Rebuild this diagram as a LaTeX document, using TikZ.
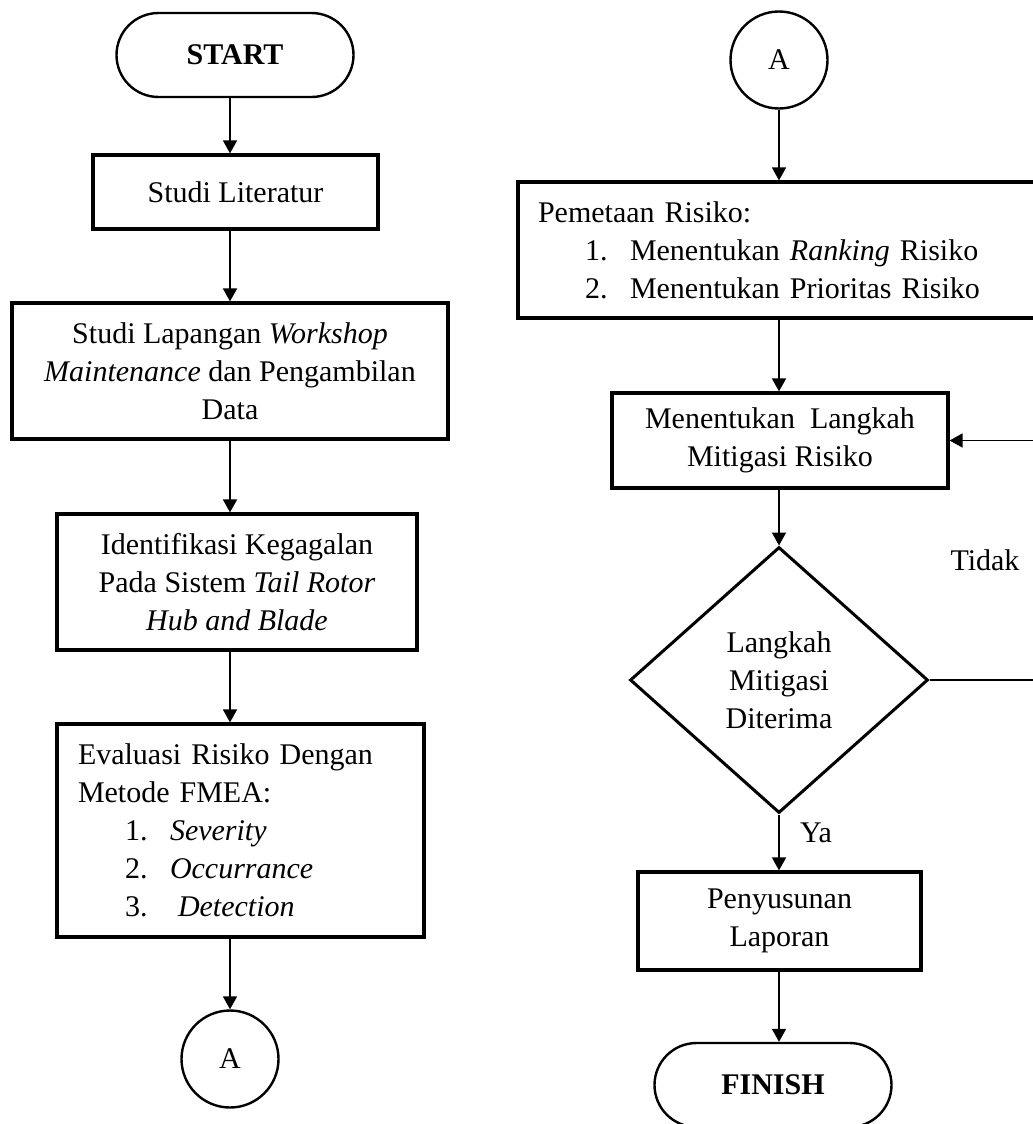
\documentclass[tikz,border=0pt]{standalone}
\usepackage{fontspec}
\setmainfont{Liberation Serif}
\usetikzlibrary{shapes.geometric,arrows.meta}
\newcommand{\itm}[2]{\hspace*{47pt}\makebox[45pt][l]{#1}#2}
\begin{document}
\begin{tikzpicture}[x=1pt,y=-1pt,
  every node/.style={font=\fontsize{30}{38}\selectfont},
  box/.style={draw, line width=3.2pt, rectangle, inner sep=0pt, align=center},
  term/.style={draw, line width=2.4pt, rounded corners=42pt, minimum width=237pt, minimum height=84pt, inner sep=0pt, font=\fontsize{30}{38}\selectfont\bfseries},
  conn/.style={draw, circle, line width=2.4pt, minimum size=97pt, inner sep=0pt},
  decision/.style={draw, diamond, line width=3pt, minimum width=298pt, minimum height=266pt, inner sep=0pt, align=center},
  arr/.style={line width=1.7pt, -{Triangle[length=13pt,width=14pt]}},
  plainline/.style={line width=1.7pt}]
\clip (0,0) rectangle (1033,1124);
\fill[white] (0,0) rectangle (1033,1124);
\coordinate (colL) at (230,0);
\coordinate (colR) at (779,0);
\coordinate (fb) at (1040,0);
% left column
\node[term] (start) at (235,55) {START};
\node[box, minimum width=285pt, minimum height=74pt] (lit) at (235.5,192) {Studi Literatur};
\node[box, minimum width=436pt, minimum height=136pt] (lap) at (230,371) {Studi Lapangan \textit{Workshop}\\\textit{Maintenance} dan Pengambilan\\Data};
\node[box, minimum width=360pt, minimum height=136pt] (ident) at (237,582) {Identifikasi Kegagalan\\Pada Sistem \textit{Tail Rotor}\\\textit{Hub and Blade}};
\node[box, minimum width=367pt, minimum height=213pt, text width=325pt, align=left] (eval) at (240.5,830.5) {Evaluasi Risiko Dengan\\Metode FMEA:\\\itm{1.}{\textit{Severity}}\\\itm{2.}{\textit{Occurrance}}\\\itm{3.}{\hspace*{8pt}\textit{Detection}}};
\node[conn] (a1) at (230,1059) {A};
% right column
\node[conn] (a2) at (779,60) {A};
\node[box, minimum width=527pt, minimum height=136pt, text width=487pt, align=left] (pem) at (781.5,250) {Pemetaan Risiko:\\\itm{1.}{Menentukan \textit{Ranking} Risiko}\\\itm{2.}{Menentukan Prioritas Risiko}};
\node[box, minimum width=336pt, minimum height=95pt] (mit) at (780,440.5) {Menentukan\ \ Langkah\\Mitigasi Risiko};
\node[decision] (dec) at (779,680) {Langkah\\Mitigasi\\Diterima};
\node[box, minimum width=283pt, minimum height=98pt] (peny) at (779.5,921) {Penyusunan\\Laporan};
\node[term] (fin) at (773,1085) {FINISH};
\node (tidak) at (985,560) {Tidak};
\node (ya) at (816,833) {Ya};
% connectors left
\draw[arr] (start.south -| colL) -- (lit.north -| colL);
\draw[arr] (lit.south -| colL) -- (lap.north -| colL);
\draw[arr] (lap.south -| colL) -- (ident.north -| colL);
\draw[arr] (ident.south -| colL) -- (eval.north -| colL);
\draw[arr] (eval.south -| colL) -- (a1.north);
% connectors right
\draw[arr] (a2.south) -- (pem.north -| colR);
\draw[arr] (pem.south -| colR) -- (mit.north -| colR);
\draw[arr] (mit.south -| colR) -- (dec.north);
\draw[arr] (dec.south) -- (peny.north -| colR);
\draw[arr] (peny.south -| colR) -- (fin.north -| colR);
\draw[arr] (dec.east) -- (dec.east -| fb) |- (mit.east);
\end{tikzpicture}
\end{document}
